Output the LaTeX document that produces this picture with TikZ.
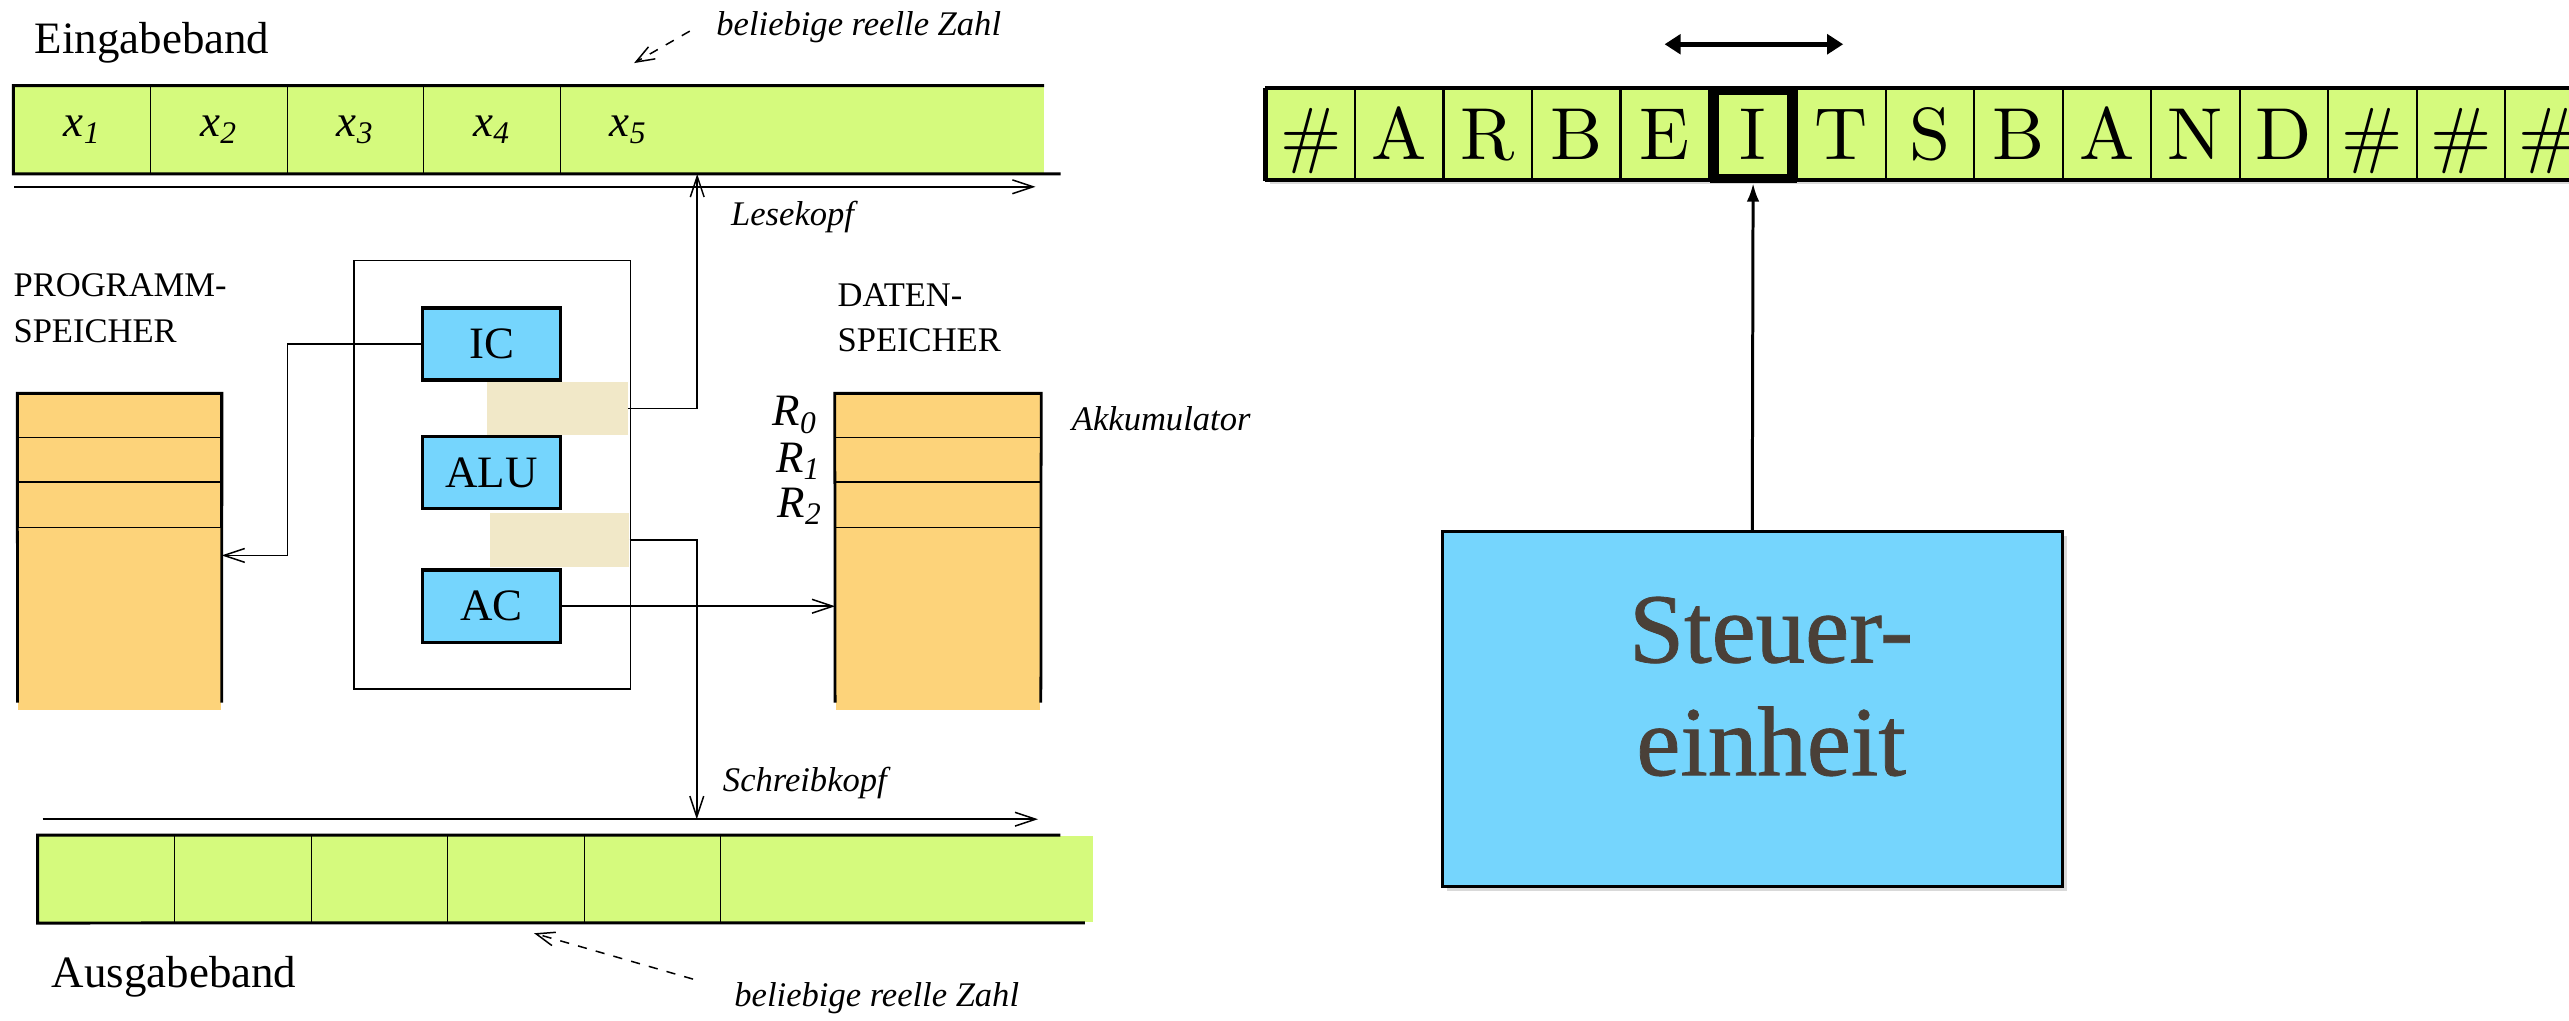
\documentclass[tikz,border=0pt]{standalone}
\usepackage{fontspec}
\newfontfamily\tnr{Liberation Serif}
\newfontfamily\steuerfont{Liberation Serif}[FakeBold=0.8]
\newfontfamily\bandfont{lmroman10-regular.otf}
\usepackage{tikz}
\usetikzlibrary{arrows.meta,positioning,shadows}

\definecolor{bandgruen}{RGB}{213,250,125}
\definecolor{speicherorange}{RGB}{253,211,122}
\definecolor{regblau}{RGB}{117,213,253}
\definecolor{papier}{RGB}{241,232,200}
\definecolor{schrift}{RGB}{74,64,56}

\tikzset{
  gross/.style={font=\tnr\fontsize{19.5}{23}\selectfont},
  mittel/.style={font=\tnr\fontsize{15}{19.6}\selectfont, inner sep=0pt},
  notiz/.style={font=\tnr\itshape\fontsize{15}{18}\selectfont, inner sep=0pt},
  zelle/.style={gross, fill=bandgruen, draw, line width=0.5pt, minimum width=20.83mm, minimum height=13.3mm, inner sep=0pt},
  zellrest/.style={fill=bandgruen, minimum height=13.3mm, inner sep=0pt},
  register/.style={gross, fill=regblau, draw, line width=1.5pt, minimum width=21mm, minimum height=11mm, inner sep=0pt},
  flicken/.style={fill=papier, inner sep=0pt},
  spz/.style={fill=speicherorange, draw, line width=0.7pt, minimum width=31mm, inner sep=0pt},
  dick/.style={line width=1.3pt},
  seite/.style={line width=1.2pt},
  pfeil/.style={line width=0.65pt, -{Straight Barb[length=9pt, width=6pt]}},
  strich/.style={line width=0.65pt, dash pattern=on 4pt off 4pt, -{Straight Barb[length=8pt, width=6pt]}},
  feld/.style={fill=bandgruen, draw, line width=1pt, minimum width=13.5mm, minimum height=13.75mm, inner sep=0pt,
    font=\bandfont\fontsize{32}{32}\selectfont, text height=21.9pt, text depth=0pt,
    drop shadow={opacity=0.3, shadow xshift=1.5pt, shadow yshift=-2pt}},
}

\begin{document}
\begin{tikzpicture}[x=0.25mm, y=-0.25mm, node distance=20.83mm]
\useasboundingbox (0,0) rectangle (1568,623);

%eingabeband
\node (eingabe)[gross, anchor=base west, inner sep=0pt] at (21,32.5) {Eingabeband};
\node (zahl1)[notiz, anchor=base west] at (437,21.4) {beliebige reelle Zahl};
\node (e1)[zelle] at (50.25,79.2) {\textit{x}\textsubscript{\textit{1}}};
\node (e2)[zelle, right of=e1] {\textit{x}\textsubscript{\textit{2}}};
\node (e3)[zelle, right of=e2] {\textit{x}\textsubscript{\textit{3}}};
\node (e4)[zelle, right of=e3] {\textit{x}\textsubscript{\textit{4}}};
\node (e5)[zelle, right of=e4] {\textit{x}\textsubscript{\textit{5}}};
\node (erest)[zellrest, minimum width=53mm] at (531,79.2) {};
\draw[dick] (erest.north east) -- (e1.north west) -- (e1.south west) -- ([xshift=2.5mm]erest.south east);
\coordinate (ein-anf) at (8.6,114);
\coordinate (ein-end) at (632,114);
\coordinate (z1a) at (421,19);
\coordinate (z1b) at (387,38.5);
\node (lese)[notiz, anchor=base west] at (446,137.5) {Lesekopf};

%programmspeicher
\node (proglab)[mittel, anchor=north west, align=left] at (8,167) {PROGRAMM-\\SPEICHER};
\node (p0)[spz, minimum height=6.625mm] at (73,253.75) {};
\node (p1)[spz, minimum height=6.75mm] at (73,280.5) {};
\node (p2)[spz, minimum height=7mm] at (73,308) {};
\node (prest)[fill=speicherorange, minimum width=31mm, minimum height=27.875mm, inner sep=0pt] at (73,377.75) {};
\draw[seite] ([yshift=1.25mm]prest.south west) -- (p0.north west) -- (p0.north east) -- ([yshift=1.25mm]prest.south east);

%rechenwerk
\node (f1)[flicken, minimum width=21.5mm, minimum height=8.125mm] at (340,249.25) {};
\node (f2)[flicken, minimum width=21.25mm, minimum height=8.25mm] at (341.5,329.5) {};
\node (cpu)[draw, line width=0.6pt, minimum width=42.25mm, minimum height=65.4mm] at (300.5,289.75) {};
\node (ic)[register] at (300,210) {IC};
\node (alu)[register] at (300,288.5) {ALU};
\node (ac)[register] at (300,370) {AC};
\coordinate (knick) at (175.5,339);

%datenspeicher
\node (datlab)[mittel, anchor=north west, align=left] at (511,173) {DATEN-\\SPEICHER};
\node (r0)[spz, minimum width=31.25mm, minimum height=6.625mm] at (572.5,253.75) {};
\node (r1)[spz, minimum width=31.25mm, minimum height=6.75mm] at (572.5,280.5) {};
\node (r2)[spz, minimum width=31.25mm, minimum height=7mm] at (572.5,308) {};
\node (drest)[fill=speicherorange, minimum width=31.25mm, minimum height=27.875mm, inner sep=0pt] at (572.5,377.75) {};
\draw[seite] ([yshift=1.25mm]drest.south west) -- (r0.north west) -- (r0.north east) -- ([yshift=1.25mm]drest.south east);
\node (r0lab)[gross, anchor=base east, inner sep=0pt] at (499,260) {\textit{R}\textsubscript{\textit{0}}};
\node (r1lab)[gross, anchor=base east, inner sep=0pt] at (501,288.5) {\textit{R}\textsubscript{\textit{1}}};
\node (r2lab)[gross, anchor=base east, inner sep=0pt] at (502,315.6) {\textit{R}\textsubscript{\textit{2}}};
\node (akku)[notiz, anchor=base west] at (654,262.5) {Akkumulator};

%ausgabeband
\node (schreib)[notiz, anchor=base west] at (441,483) {Schreibkopf};
\coordinate (aus-anf) at (26,500);
\coordinate (aus-end) at (633.6,500);
\coordinate (aus-kopf) at (425.3,500);
\node (a1)[zelle, minimum height=13.25mm] at (64.95,536.5) {};
\node (a2)[zelle, minimum height=13.25mm, right of=a1] {};
\node (a3)[zelle, minimum height=13.25mm, right of=a2] {};
\node (a4)[zelle, minimum height=13.25mm, right of=a3] {};
\node (a5)[zelle, minimum height=13.25mm, right of=a4] {};
\node (arest)[zellrest, minimum width=56.75mm, minimum height=13.25mm] at (553.4,536.5) {};
\draw[dick] ([xshift=-5mm]arest.north east) -- (a1.north west) -- (a1.south west) -- ([xshift=-1.25mm]arest.south east);
\node (ausgabe)[gross, anchor=base west, inner sep=0pt] at (31.4,603) {Ausgabeband};
\node (zahl2)[notiz, anchor=base west] at (448,614.5) {beliebige reelle Zahl};
\coordinate (z2a) at (423,597.6);
\coordinate (z2b) at (326,569.6);

%arbeitsband
\node (c1)[feld] at (800,82) {\#};
\node (c2)[feld, right of=c1, node distance=13.5mm] {A};
\node (c3)[feld, right of=c2, node distance=13.5mm] {R};
\node (c4)[feld, right of=c3, node distance=13.5mm] {B};
\node (c5)[feld, right of=c4, node distance=13.5mm] {E};
\node (c6)[feld, right of=c5, node distance=13.5mm] {I};
\node (c7)[feld, right of=c6, node distance=13.5mm] {T};
\node (c8)[feld, right of=c7, node distance=13.5mm] {S};
\node (c9)[feld, right of=c8, node distance=13.5mm] {B};
\node (c10)[feld, right of=c9, node distance=13.5mm] {A};
\node (c11)[feld, right of=c10, node distance=13.5mm] {N};
\node (c12)[feld, right of=c11, node distance=13.5mm] {D};
\node (c13)[feld, right of=c12, node distance=13.5mm] {\#};
\node (c14)[feld, right of=c13, node distance=13.5mm] {\#};
\node (c15)[feld, right of=c14, node distance=13.5mm] {\#};
\draw[line width=1.6pt] (c1.north west) -- (c15.north east);
\draw[line width=1.6pt] (c1.south west) -- (c15.south east);
\draw[line width=1.6pt] (c1.north west) -- (c1.south west);
\node (kopf)[draw, line width=4pt, minimum width=11.85mm, minimum height=13.5mm, inner sep=0pt] at (c6) {};
\coordinate (links) at (1016,27);
\coordinate (rechts) at (1125,27);
\node (steuer)[draw, line width=1.2pt, fill=regblau, minimum width=94.65mm, minimum height=54.1mm,
  drop shadow={opacity=0.3, shadow xshift=2pt, shadow yshift=-2pt}] at (1069.5,432.75) {};
\node (steuertext)[font=\steuerfont\fontsize{43}{49}\selectfont, text=schrift, align=center, inner sep=0pt] at (1081,419) {Steuer-\\einheit};

%links
\draw[pfeil] (ein-anf) -- (ein-end);
\draw[strich] (z1a) -- (z1b);
\draw[pfeil] (f1.east) -| (e5.south east);
\draw[pfeil] (ic.west) -| (knick) -- (knick -| prest.east);
\draw[pfeil] (ac.east) -- (ac.east -| drest.west);
\draw[pfeil] (f2.east) -| (aus-kopf);
\draw[pfeil] (aus-anf) -- (aus-end);
\draw[strich] (z2a) -- (z2b);
\draw[line width=1.3pt, -{Latex[length=8pt, width=5.5pt]}] (steuer.north) -- (kopf.south);
\draw[line width=2pt, {Triangle[length=7pt, width=8.5pt]}-{Triangle[length=7pt, width=8.5pt]}] (links) -- (rechts);
\end{tikzpicture}
\end{document}
